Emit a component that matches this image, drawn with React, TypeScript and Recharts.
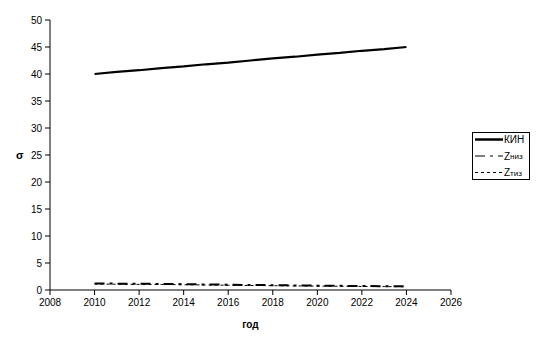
import React from 'react';
import { LineChart, Line, XAxis, YAxis } from 'recharts';

const years = [2010, 2011, 2012, 2013, 2014, 2015, 2016, 2017, 2018, 2019, 2020, 2021, 2022, 2023, 2024];
const kin = [40.0, 40.4, 40.7, 41.1, 41.4, 41.8, 42.1, 42.5, 42.9, 43.2, 43.6, 43.9, 44.3, 44.6, 45.0];
const zniz = [1.2, 1.18, 1.15, 1.12, 1.08, 1.03, 0.98, 0.93, 0.89, 0.85, 0.81, 0.77, 0.74, 0.71, 0.68];
const ztiz = [1.1, 1.07, 1.04, 1.02, 0.98, 0.93, 0.88, 0.84, 0.8, 0.76, 0.72, 0.69, 0.66, 0.63, 0.6];
const xTicks = [2008, 2010, 2012, 2014, 2016, 2018, 2020, 2022, 2024, 2026];
const yTicks = [0, 5, 10, 15, 20, 25, 30, 35, 40, 45, 50];

const data = years.map((y, i) => ({ year: y, kin: kin[i], zniz: zniz[i], ztiz: ztiz[i] }));

const FONT = '"Liberation Sans", Arial, sans-serif';

const legendItems = [
  { main: 'КИН', sub: '', width: 2.5, dash: undefined as string | undefined },
  { main: 'Z', sub: 'низ', width: 1, dash: '10 5 3 5' },
  { main: 'Z', sub: 'тиз', width: 1, dash: '3 3' },
];

const LegendBox = () => (
  <svg width={58} height={48} style={{ display: 'block', position: 'absolute', left: 472, top: 132 }}>
    <rect x={0.5} y={0.5} width={57} height={47} fill="#fff" stroke="#000" strokeWidth={1} />
    {legendItems.map((it, i) => {
      const cy = 7.5 + i * 16.5;
      return (
        <g key={i}>
          <line x1={3} x2={31} y1={cy} y2={cy} stroke="#000" strokeWidth={it.width} strokeDasharray={it.dash} />
          <text x={32} y={cy} dominantBaseline="central" fontFamily={FONT} fontSize={10} fill="#000">
            {it.main}
            {it.sub ? <tspan fontSize={8}>{it.sub}</tspan> : null}
          </text>
        </g>
      );
    })}
  </svg>
);

export default function App() {
  return (
    <div style={{ position: 'absolute', left: 0, top: 0, width: 538, height: 345, background: '#fff' }}>
      <LineChart
        width={538}
        height={345}
        data={data}
        margin={{ top: 20, right: 87, bottom: 0, left: 0 }}
        style={{ fontFamily: FONT }}
      >
        <XAxis
          dataKey="year"
          type="number"
          domain={[2008, 2026]}
          ticks={xTicks}
          interval={0}
          height={55}
          tickSize={5}
          tickMargin={4}
          stroke="#000"
          tick={{ fill: '#000', fontSize: 10 }}
          axisLine={{ stroke: '#000' }}
          tickLine={{ stroke: '#000' }}
          label={{ value: 'год', position: 'insideBottom', offset: 17, fill: '#000', fontSize: 10, fontWeight: 'bold' }}
        />
        <YAxis
          type="number"
          domain={[0, 50]}
          ticks={yTicks}
          interval={0}
          width={50}
          tickSize={5}
          tickMargin={3}
          stroke="#000"
          tick={{ fill: '#000', fontSize: 10 }}
          axisLine={{ stroke: '#000' }}
          tickLine={{ stroke: '#000' }}
          label={{ value: 'σ', position: 'insideLeft', offset: 16, fill: '#000', fontSize: 11, fontWeight: 'bold' }}
        />
        <Line dataKey="kin" name="КИН" stroke="#000" strokeWidth={2.2} dot={false} isAnimationActive={false} />
        <Line dataKey="zniz" name="Zниз" stroke="#000" strokeWidth={2} strokeDasharray="10 5 3 5" dot={false} isAnimationActive={false} />
        <Line dataKey="ztiz" name="Zтиз" stroke="#000" strokeWidth={1} strokeDasharray="3 3" dot={false} isAnimationActive={false} />
      </LineChart>
      <LegendBox />
    </div>
  );
}
